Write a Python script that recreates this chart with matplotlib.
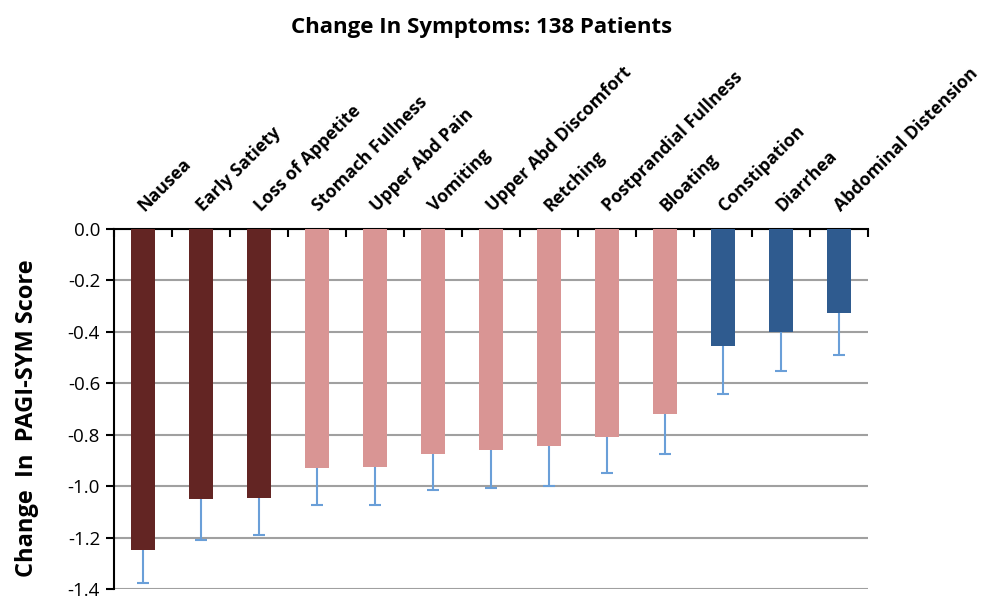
import matplotlib
matplotlib.use("Agg")
import matplotlib.pyplot as plt
import numpy as np

categories = ["Nausea", "Early Satiety", "Loss of Appetite", "Stomach Fullness",
              "Upper Abd Pain", "Vomiting", "Upper Abd Discomfort", "Retching",
              "Postprandial Fullness", "Bloating", "Constipation", "Diarrhea",
              "Abdominal Distension"]
values = [-1.25, -1.05, -1.045, -0.93, -0.925, -0.875, -0.86, -0.845,
          -0.81, -0.72, -0.455, -0.40, -0.325]
errors = [0.125, 0.16, 0.145, 0.145, 0.15, 0.14, 0.148, 0.155,
          0.14, 0.155, 0.185, 0.153, 0.165]
groups = [0, 0, 0, 1, 1, 1, 1, 1, 1, 1, 2, 2, 2]
group_colors = ["#632523", "#D99594", "#2F5B8F"]
yticks = [0.0, -0.2, -0.4, -0.6, -0.8, -1.0, -1.2, -1.4]

plt.rcParams['font.family'] = ['Open Sans', 'DejaVu Sans']

fig = plt.figure(figsize=(9.87, 5.99), dpi=100)
ax = fig.add_axes([114/987, 1 - 589/599, (868-114)/987, (589-229)/599])

x = np.arange(len(categories))
colors = [group_colors[g] for g in groups]
ax.bar(x, values, width=0.4, color=colors, zorder=3)
eb = ax.errorbar(x, values, yerr=[errors, [0]*len(errors)], fmt='none',
                 ecolor="#6A9FD8", elinewidth=1.5, capsize=4, capthick=1.5, zorder=4)
# hide caps at the bar ends (upper side, zero length)
for c in eb[1]:
    yd = np.asarray(c.get_ydata())
    if np.allclose(yd, values):
        c.set_visible(False)

ax.set_xlim(-0.5, len(categories) - 0.5)
ax.set_ylim(-1.4, 0.0)
ax.set_yticks(yticks)
ax.set_yticklabels([f"{v:.1f}" for v in yticks], fontsize=13.5)
ax.yaxis.grid(True, color="#A0A0A0", linewidth=1.5, zorder=0)
ax.set_axisbelow(True)

for s in ["right", "bottom"]:
    ax.spines[s].set_visible(False)
ax.spines["left"].set_linewidth(1.5)
ax.spines["top"].set_linewidth(1.5)
ax.tick_params(axis='y', direction='out', length=6, width=1.5, pad=4)

# category boundary ticks on top spine
ax.set_xticks(np.arange(-0.5, len(categories), 1.0))
ax.set_xticklabels([])
ax.tick_params(axis='x', bottom=False, top=True, direction='in', length=6, width=1.5,
               labeltop=False, labelbottom=False)

for xi, name in zip(x, categories):
    ax.text(xi + 0.03, 1 + 17/360, name, rotation=45, rotation_mode='anchor',
            ha='left', va='baseline', fontsize=12.8, fontweight='bold',
            transform=ax.get_xaxis_transform(), clip_on=False)

ax.set_ylabel("Change  In  PAGI-SYM Score", fontsize=17, fontweight='bold')
ax.yaxis.set_label_coords(-0.100, 0.475)

fig.text(0.488, 1 - 27/599, "Change In Symptoms: 138 Patients", ha='center', va='center',
         fontsize=16, fontweight='bold')

fig.savefig("out.png", dpi=100)
